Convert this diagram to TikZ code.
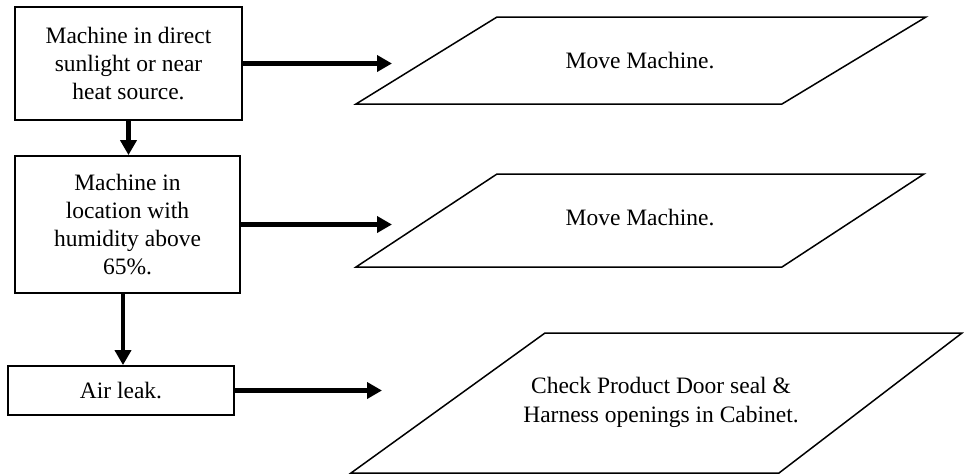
\documentclass[tikz,border=0pt]{standalone}
\usepackage{fontspec}
\setmainfont{Liberation Serif}
\usetikzlibrary{arrows.meta}
\begin{document}
\begin{tikzpicture}[x=1pt,y=-1pt,
  box/.style={draw,line width=1.8pt,align=center,inner sep=0pt,font=\fontsize{23.5}{28}\selectfont},
  flow/.style={line width=4.5pt,-{Triangle[length=15pt,width=16pt]}},
  para/.style={draw,line width=1.5pt,line join=miter},
  lbl/.style={align=center,inner sep=0pt,font=\fontsize{23.5}{29}\selectfont}]
\useasboundingbox (0,0) rectangle (964,474);
% process boxes
\node[box,minimum width=227pt,minimum height=113pt] (b1) at (128.5,63.5)
  {Machine in direct\\sunlight or near\\heat source.};
\node[box,minimum width=225pt,minimum height=137pt] (b2) at (127.5,224.5)
  {Machine in\\location with\\humidity above\\65\%.};
\node[box,minimum width=226pt,minimum height=49pt] (b3) at (121,390.5)
  {Air leak.};
% parallelograms
\draw[para] (356,104) -- (497,17) -- (926,17) -- (782,104) -- cycle;
\node[lbl] (p1) at (640,61) {Move Machine.};
\draw[para] (356,267) -- (497,174) -- (924,174) -- (782,267) -- cycle;
\node[lbl] (p2) at (640,218) {Move Machine.};
\draw[para] (351,473) -- (545,333) -- (962,333) -- (779,473) -- cycle;
\node[lbl] (p3) at (661,402) {Check Product Door seal \&\\Harness openings in Cabinet.};
% arrow ends
\coordinate (e1) at (392,63);
\coordinate (e2) at (392,222);
\coordinate (e3) at (382,390);
% connectors
\draw[flow] (b1.east) -- (b1.east -| e1);
\draw[flow] (b2.east) -- (b2.east -| e2);
\draw[flow] (b3.east) -- (b3.east -| e3);
\draw[flow] (b1.south) -- (b1.south |- b2.north);
\draw[flow] ([xshift=2pt]b3.north |- b2.south) -- ([xshift=2pt]b3.north);
\end{tikzpicture}
\end{document}
